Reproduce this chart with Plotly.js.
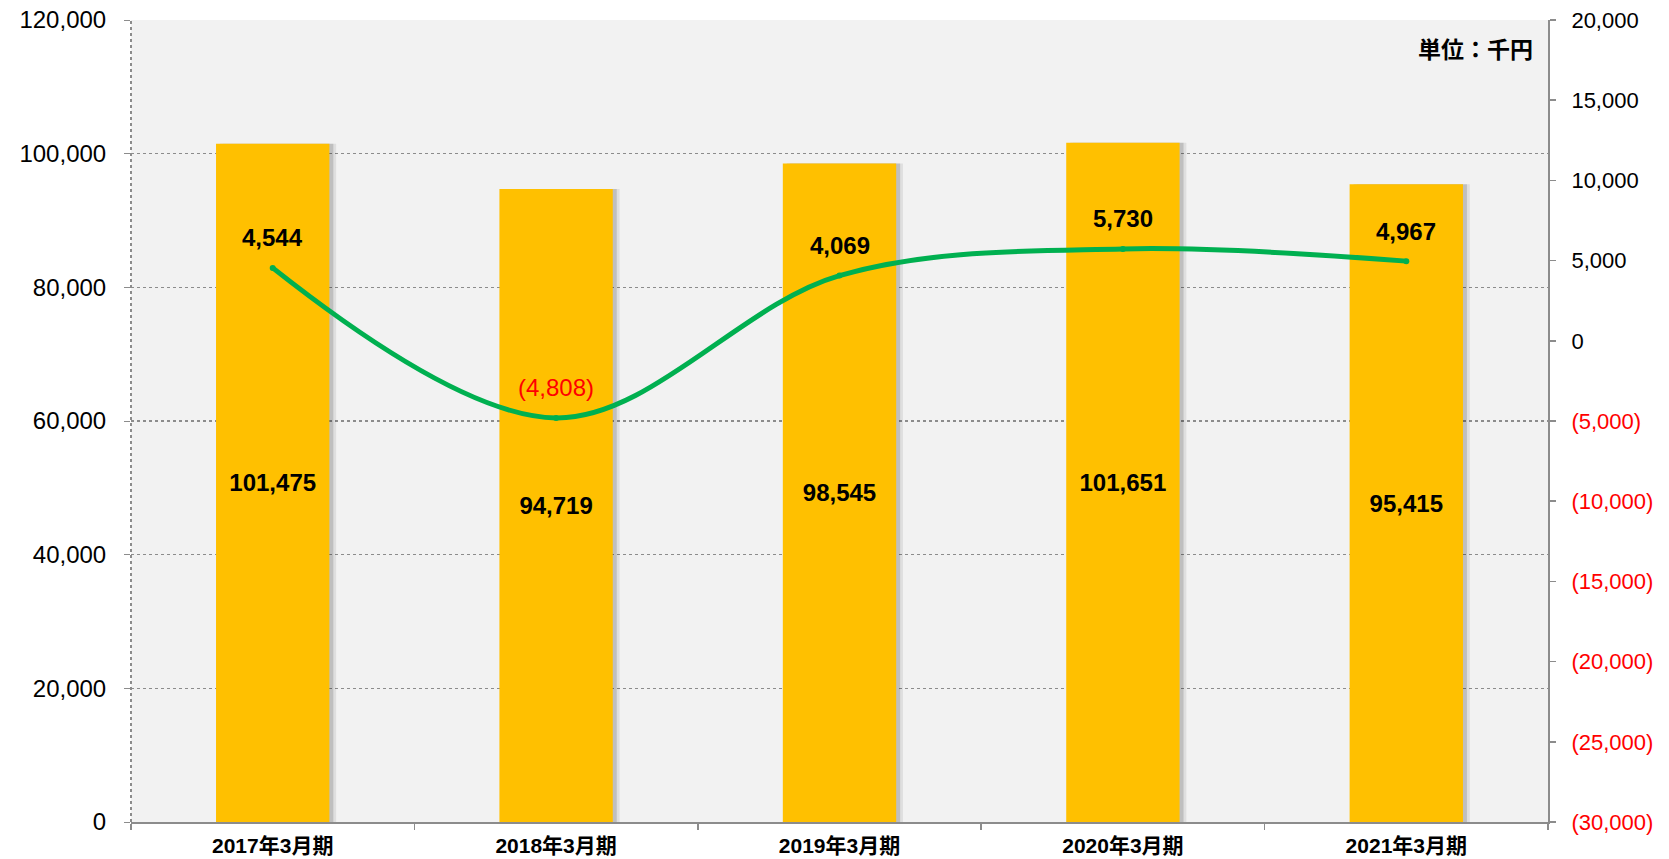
<!DOCTYPE html>
<html><head><meta charset="utf-8">
<script src="https://cdn.plot.ly/plotly-3.0.1.min.js"></script>
<style>html,body{margin:0;padding:0;background:#fff}#chart{width:1669px;height:859px}</style>
</head><body><div id="chart"></div>
<script>
const categories = ["2017年3月期","2018年3月期","2019年3月期","2020年3月期","2021年3月期"];
const salesValues = [101475, 94719, 98545, 101651, 95415];
const profitValues = [4544, -4808, 4069, 5730, 4967];
const leftTicks = [0, 20000, 40000, 60000, 80000, 100000, 120000];
const rightTicks = [-30000, -25000, -20000, -15000, -10000, -5000, 0, 5000, 10000, 15000, 20000];
const unitLabel = "単位：千円";

const FONT = "Liberation Sans, Arial, Noto Sans CJK JP, sans-serif";
const fmt = v => Math.abs(v).toLocaleString('en-US');
const acc = v => v < 0 ? "(" + fmt(v) + ")" : fmt(v);

const shadow2 = {
  type: 'bar', x: categories, y: salesValues, width: 0.4, offset: -0.176,
  marker: {color: 'rgba(0,0,0,0.08)'}, hoverinfo: 'skip', showlegend: false
};
const shadow1 = {
  type: 'bar', x: categories, y: salesValues, width: 0.4, offset: -0.186,
  marker: {color: 'rgba(0,0,0,0.14)'}, hoverinfo: 'skip', showlegend: false
};
const bars = {
  type: 'bar', x: categories, y: salesValues, width: 0.4, offset: -0.2,
  marker: {color: '#FFC000'},
  text: salesValues.map(fmt), textposition: 'inside', insidetextanchor: 'middle',
  textfont: {family: FONT, size: 24, color: '#000', weight: 'bold'},
  showlegend: false
};
const line = {
  type: 'scatter', mode: 'lines+markers', x: categories, y: profitValues, yaxis: 'y2',
  line: {color: '#00B050', width: 5, shape: 'spline', smoothing: 1},
  marker: {color: '#00B050', size: 6},
  showlegend: false
};

const lineLabels = categories.map((c, i) => ({
  x: c, y: profitValues[i], xref: 'x', yref: 'y2', text: acc(profitValues[i]),
  showarrow: false, yshift: 30, xanchor: 'center', yanchor: 'middle',
  font: {family: FONT, size: 24, weight: profitValues[i] < 0 ? 'normal' : 'bold',
         color: profitValues[i] < 0 ? '#FF0000' : '#000'}
}));

const layout = {
  width: 1669, height: 859,
  margin: {l: 131, r: 121, t: 20, b: 37},
  paper_bgcolor: '#fff', plot_bgcolor: '#F2F2F2',
  barmode: 'overlay',
  font: {family: FONT, color: '#000'},
  xaxis: {
    type: 'category', showline: true, linecolor: '#8C8C8C', linewidth: 2,
    ticks: 'outside', tickson: 'boundaries', ticklen: 6, tickcolor: '#8C8C8C', tickwidth: 1.5,
    showgrid: false, tickfont: {size: 21, weight: 'bold', family: FONT}, ticklabelstandoff: 4,
    range: [-0.5, 4.5]
  },
  yaxis: {
    range: [0, 120000], tickvals: leftTicks, ticktext: leftTicks.map(fmt),
    showgrid: true, gridcolor: '#8C8C8C', gridwidth: 1.5, griddash: 'dot',
    ticks: 'outside', ticklen: 6, tickcolor: '#8C8C8C',
    showline: false, zeroline: false,
    tickfont: {size: 24, family: FONT}, ticklabelstandoff: 13
  },
  yaxis2: {
    overlaying: 'y', side: 'right', range: [-30000, 20000],
    tickvals: rightTicks,
    ticktext: rightTicks.map(v => v < 0 ? '<span style="color:#FF0000">' + acc(v) + '</span>' : acc(v)),
    showgrid: false, zeroline: false, showline: true, linecolor: '#8C8C8C', linewidth: 2,
    ticks: 'outside', ticklen: 6, tickcolor: '#8C8C8C', tickwidth: 1.5,
    tickfont: {size: 22, family: FONT}, ticklabelstandoff: 11
  },
  shapes: [{
    type: 'line', xref: 'paper', yref: 'paper', x0: 0, x1: 0, y0: 0, y1: 1,
    line: {color: '#8C8C8C', width: 2, dash: 'dot'}
  }],
  annotations: lineLabels.concat([{
    text: unitLabel, xref: 'paper', yref: 'paper', x: 0.991, y: 0.965,
    xanchor: 'right', yanchor: 'middle', showarrow: false,
    font: {size: 23, weight: 'bold', family: "Noto Sans CJK JP, sans-serif", color: '#000'}
  }])
};

Plotly.newPlot('chart', [shadow2, shadow1, bars, line], layout, {displayModeBar: false, staticPlot: true});
</script></body></html>
